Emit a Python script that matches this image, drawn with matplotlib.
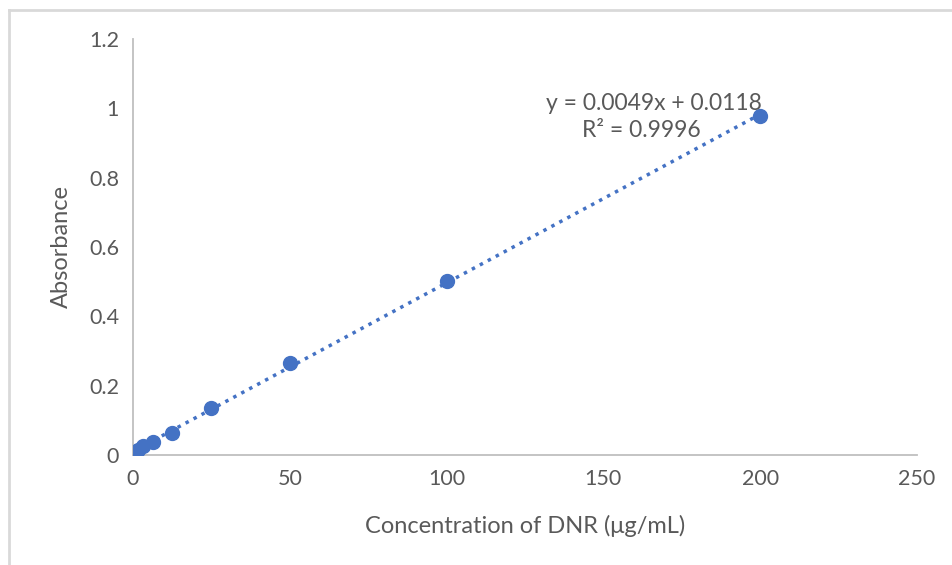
import numpy as np
from matplotlib import pyplot as plt
from matplotlib.lines import Line2D

# concentration of DNR (ug/mL) and measured absorbance
conc = [1.5625, 3.125, 6.25, 12.5, 25, 50, 100, 200]
absorb = [0.014, 0.026, 0.037, 0.064, 0.136, 0.264, 0.501, 0.978]

eq_text = "y = 0.0049x + 0.0118"
r2_text = "R² = 0.9996"

blue = '#4472C4'
grey = '#595959'

plt.rcParams['font.family'] = ['Lato', 'DejaVu Sans']

fig = plt.figure(figsize=(9.52, 5.65), dpi=100)
ax = fig.add_axes([133 / 952, 1 - 455 / 565, (917 - 133) / 952, (455 - 39) / 565])

# linear trendline
slope, icpt = np.polyfit(conc, absorb, 1)
xs = np.array([min(conc), max(conc)])
ax.plot(xs, slope * xs + icpt, color=blue, lw=2.5, ls=(0, (1, 1.6)), zorder=2)
ax.plot(conc, absorb, 'o', color=blue, ms=10, zorder=3)

ax.text(166.0, 1.015, eq_text, ha='center', va='center', fontsize=16.5, color=grey)
ax.text(162, 0.937, r2_text, ha='center', va='center', fontsize=16.5, color=grey)

ax.set_xlim(0, 250)
ax.set_ylim(0, 1.2)
ax.set_xticks([0, 50, 100, 150, 200, 250])
ax.set_yticks([0, 0.2, 0.4, 0.6, 0.8, 1, 1.2])
ax.set_yticklabels(['0', '0.2', '0.4', '0.6', '0.8', '1', '1.2'])
ax.tick_params(length=0, labelsize=15.5, labelcolor=grey, pad=10)
for s in ['top', 'right']:
    ax.spines[s].set_visible(False)
for s in ['left', 'bottom']:
    ax.spines[s].set_color('#bfbfbf')
    ax.spines[s].set_linewidth(1.3)

ax.set_xlabel('Concentration of DNR (μg/mL)', fontsize=17, color=grey, labelpad=19)
ax.set_ylabel('Absorbance', fontsize=17, color=grey, labelpad=12)

# chart border
fig.add_artist(Line2D([8.5 / 952, 1], [1 - 10 / 565, 1 - 10 / 565], color='#d9d9d9', lw=2))
fig.add_artist(Line2D([8.5 / 952, 8.5 / 952], [0, 1 - 10 / 565], color='#d9d9d9', lw=2))

fig.savefig('out.png', dpi=100)
